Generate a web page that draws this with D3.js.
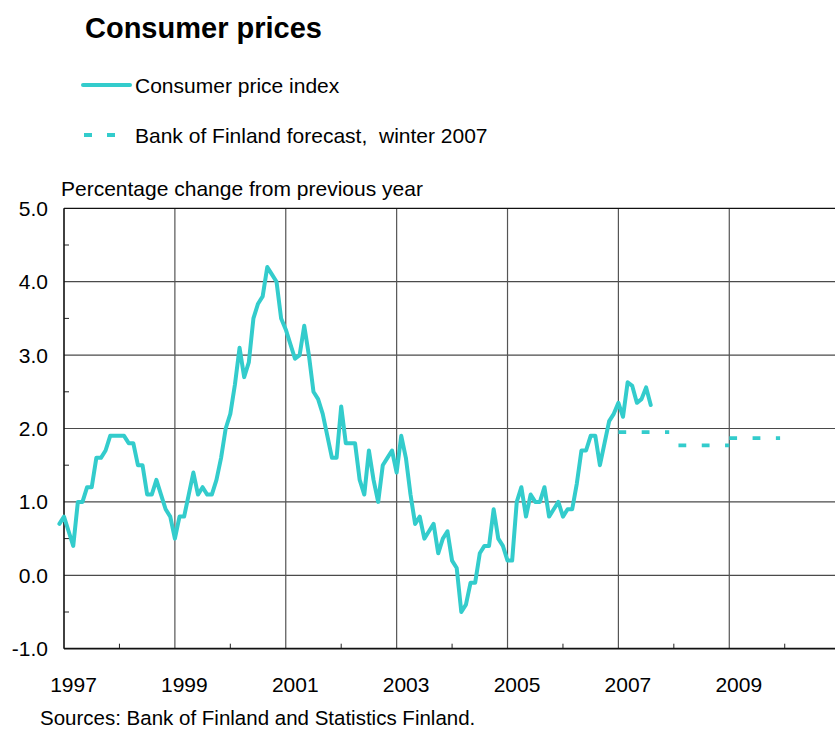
<!DOCTYPE html>
<html>
<head>
<meta charset="utf-8">
<script src="https://cdn.jsdelivr.net/npm/d3@7"></script>
<style>
  html, body { margin: 0; padding: 0; background: #fff; overflow: hidden; }
  svg { display: block; }
  text { font-family: "Liberation Sans", Arial, Helvetica, sans-serif; fill: #000; }
</style>
</head>
<body>
<script>
// Consumer price index, annual % change, monthly from December 1996
const cpiStart = { year: 1996, month: 12 };
const cpiValues = [
  0.7,
  0.8, 0.6, 0.4, 1.0, 1.0, 1.2, 1.2, 1.6, 1.6, 1.7, 1.9, 1.9,   // 1997
  1.9, 1.9, 1.8, 1.8, 1.5, 1.5, 1.1, 1.1, 1.3, 1.1, 0.9, 0.8,   // 1998
  0.5, 0.8, 0.8, 1.1, 1.4, 1.1, 1.2, 1.1, 1.1, 1.3, 1.6, 2.0,   // 1999
  2.2, 2.6, 3.1, 2.7, 2.9, 3.5, 3.7, 3.8, 4.2, 4.1, 4.0, 3.5,   // 2000
  3.35, 3.15, 2.95, 3.0, 3.4, 3.0, 2.5, 2.4, 2.2, 1.9, 1.6, 1.6, // 2001
  2.3, 1.8, 1.8, 1.8, 1.3, 1.1, 1.7, 1.3, 1.0, 1.5, 1.6, 1.7,   // 2002
  1.4, 1.9, 1.6, 1.1, 0.7, 0.8, 0.5, 0.6, 0.7, 0.3, 0.5, 0.6,   // 2003
  0.2, 0.1, -0.5, -0.4, -0.1, -0.1, 0.3, 0.4, 0.4, 0.9, 0.5, 0.4, // 2004
  0.2, 0.2, 1.0, 1.2, 0.8, 1.1, 1.0, 1.0, 1.2, 0.8, 0.9, 1.0,   // 2005
  0.8, 0.9, 0.9, 1.25, 1.7, 1.7, 1.9, 1.9, 1.5, 1.8, 2.1, 2.2,  // 2006
  2.35, 2.16, 2.63, 2.58, 2.35, 2.4, 2.56, 2.32                 // 2007
];

// Bank of Finland forecast, winter 2007 (annual averages)
const forecastYears  = [2007, 2008, 2009];
const forecastValues = [1.95, 1.77, 1.87];
const forecastFrom   = ["2007-01", "2008-02", "2009-01"];
const forecastTo     = ["2007-12", "2009-01", "2009-12"];

// Axis ticks
const yTicks       = [-1, 0, 1, 2, 3, 4, 5];
const yMinorTicks  = [-0.5, 0.5, 1.5, 2.5, 3.5, 4.5];
const xLabelYears  = [1997, 1999, 2001, 2003, 2005, 2007, 2009];
const xGridYears   = [1999, 2001, 2003, 2005, 2007, 2009];
const xMinorYears  = [1998, 2000, 2002, 2004, 2006, 2008, 2010];

const titleText   = "Consumer prices";
const legendItems = ["Consumer price index", "Bank of Finland forecast,\u00a0 winter 2007"];
const yTitleText  = "Percentage change from previous year";
const sourceText  = "Sources: Bank of Finland and Statistics Finland.";

const W = 835, H = 731;
const color = "#33cccc";
const plot = { left: 64, top: 208.3, bottom: 648.7, yearPx: 55.44 };

const svg = d3.select("body").append("svg")
  .attr("width", W).attr("height", H)
  .attr("viewBox", `0 0 ${W} ${H}`);

svg.append("rect").attr("width", W).attr("height", H).attr("fill", "#fff");

const x = d3.scaleLinear()
  .domain([1997, 2011])
  .range([plot.left, plot.left + 14 * plot.yearPx]);
const y = d3.scaleLinear()
  .domain([-1, 5])
  .range([plot.bottom, plot.top]);

const monthToYear = s => { const [yy, mm] = s.split("-").map(Number); return yy + (mm - 1) / 12; };
const cpi = cpiValues.map((v, i) => ({
  t: cpiStart.year + (cpiStart.month - 1 + i) / 12,
  v
}));

const right = W;

// Gridlines
const grid = svg.append("g").attr("class", "grid");
grid.selectAll("line.h").data(yTicks.filter(d => d > -1 && d < 5)).join("line")
  .attr("class", "h")
  .attr("x1", plot.left).attr("x2", right)
  .attr("y1", d => y(d)).attr("y2", d => y(d))
  .attr("stroke", "#4a4a4a").attr("stroke-width", 1.2);
grid.selectAll("line.v").data(xGridYears).join("line")
  .attr("class", "v")
  .attr("x1", d => x(d)).attr("x2", d => x(d))
  .attr("y1", plot.top).attr("y2", plot.bottom)
  .attr("stroke", "#555").attr("stroke-width", 1.2);

// Top frame line
svg.append("line")
  .attr("x1", plot.left).attr("x2", right)
  .attr("y1", y(5)).attr("y2", y(5))
  .attr("stroke", "#111").attr("stroke-width", 1.3);

// Minor ticks
svg.append("g").selectAll("line").data(yMinorTicks).join("line")
  .attr("x1", plot.left).attr("x2", plot.left + 5)
  .attr("y1", d => y(d)).attr("y2", d => y(d))
  .attr("stroke", "#222").attr("stroke-width", 1);
svg.append("g").selectAll("line").data(xMinorYears).join("line")
  .attr("x1", d => x(d)).attr("x2", d => x(d))
  .attr("y1", plot.bottom).attr("y2", plot.bottom - 5)
  .attr("stroke", "#222").attr("stroke-width", 1);

// Axes lines
svg.append("line")
  .attr("x1", plot.left).attr("x2", plot.left)
  .attr("y1", plot.top).attr("y2", plot.bottom)
  .attr("stroke", "#111").attr("stroke-width", 1.6);
svg.append("line")
  .attr("x1", plot.left).attr("x2", right)
  .attr("y1", plot.bottom).attr("y2", plot.bottom)
  .attr("stroke", "#111").attr("stroke-width", 1.8);

// Y tick labels (plain hyphen for negatives)
svg.append("g").selectAll("text").data(yTicks).join("text")
  .attr("x", plot.left - 16)
  .attr("y", d => y(d))
  .attr("dy", "0.36em")
  .attr("text-anchor", "end")
  .attr("font-size", 21)
  .text(d => d.toFixed(1));

// X year labels
svg.append("g").selectAll("text").data(xLabelYears).join("text")
  .attr("x", d => x(d) + 9.5)
  .attr("y", 691.5)
  .attr("text-anchor", "middle")
  .attr("font-size", 21)
  .text(d => d);

// CPI line
const line = d3.line().x(d => x(d.t)).y(d => y(d.v));
svg.append("path")
  .datum(cpi)
  .attr("d", line)
  .attr("fill", "none")
  .attr("stroke", color)
  .attr("stroke-width", 4)
  .attr("stroke-linejoin", "round")
  .attr("stroke-linecap", "round");

// Forecast segments
const fc = forecastYears.map((yr, i) => ({
  yr, v: forecastValues[i],
  t0: monthToYear(forecastFrom[i]), t1: monthToYear(forecastTo[i])
}));
svg.append("g").selectAll("line").data(fc).join("line")
  .attr("x1", d => x(d.t0)).attr("x2", d => x(d.t1))
  .attr("y1", d => y(d.v)).attr("y2", d => y(d.v))
  .attr("stroke", color)
  .attr("stroke-width", 3.8)
  .attr("stroke-dasharray", "7.8,15.5");

// Title
svg.append("text")
  .attr("x", 85).attr("y", 38)
  .attr("font-size", 29).attr("font-weight", "bold")
  .text(titleText);

// Legend
svg.append("line")
  .attr("x1", 83).attr("x2", 130).attr("y1", 85).attr("y2", 85)
  .attr("stroke", color).attr("stroke-width", 4).attr("stroke-linecap", "round");
svg.append("line")
  .attr("x1", 84).attr("x2", 116).attr("y1", 135).attr("y2", 135)
  .attr("stroke", color).attr("stroke-width", 3.8).attr("stroke-dasharray", "8,15");
svg.append("g").selectAll("text").data(legendItems).join("text")
  .attr("x", 135)
  .attr("y", (d, i) => 85 + i * 50)
  .attr("dy", "0.36em")
  .attr("font-size", 21)
  .style("white-space", "pre")
  .text(d => d);

// Axis title and source
svg.append("text")
  .attr("x", 61).attr("y", 196)
  .attr("font-size", 21)
  .text(yTitleText);
svg.append("text")
  .attr("x", 40).attr("y", 725)
  .attr("font-size", 20.5)
  .text(sourceText);
</script>
</body>
</html>
